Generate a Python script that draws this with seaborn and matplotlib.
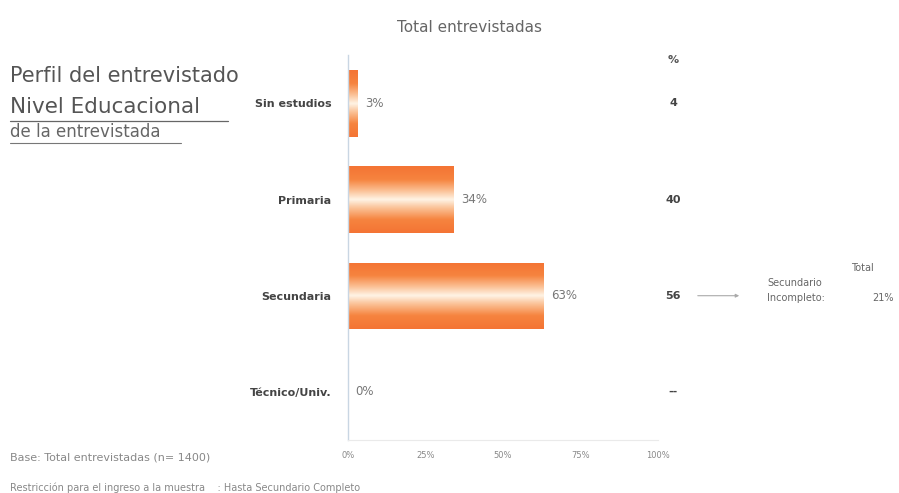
import numpy as np
import pandas as pd
import matplotlib
matplotlib.use("Agg")
import matplotlib.pyplot as plt
from matplotlib.lines import Line2D
from matplotlib.patches import FancyArrowPatch
from matplotlib.colors import LinearSegmentedColormap
import seaborn as sns

categories = ["Sin estudios", "Primaria", "Secundaria", "Técnico/Univ."]
pct_total = [3, 34, 63, 0]
pct_labels = ["3%", "34%", "63%", "0%"]
ref_column = ["4", "40", "56", "--"]
x_ticks = [0, 25, 50, 75, 100]
x_tick_labels = ["0%", "25%", "50%", "75%", "100%"]

sns.set_theme(style="white")
plt.rcParams["font.family"] = ["DejaVu Sans"]

df = pd.DataFrame({"nivel": categories, "pct": pct_total})

fig = plt.figure(figsize=(8.99, 4.93), dpi=100)
ax = fig.add_axes([0.387, 0.1075, 0.345, 0.7805])

sns.barplot(data=df, x="pct", y="nivel", ax=ax, orient="h",
            color="#F47A3C", width=0.69, saturation=1)

# striped orange/cream gradient across the height of each bar
grad = LinearSegmentedColormap.from_list(
    "stripe",
    [(0.0, "#F47434"), (0.2, "#F6843F"), (0.36, "#FBBE92"),
     (0.5, "#FFF4E6"), (0.62, "#FBC49A"), (0.8, "#F6843F"), (1.0, "#F47434")])
vals = np.linspace(0, 1, 200).reshape(-1, 1)
for p in ax.patches:
    x0, y0 = p.get_x(), p.get_y()
    w, h = p.get_width(), p.get_height()
    if w <= 0:
        continue
    p.set_facecolor("none")
    p.set_edgecolor("none")
    im = ax.imshow(vals, cmap=grad, aspect="auto",
                   extent=(x0, x0 + w, y0 + h, y0), zorder=2,
                   interpolation="bicubic")
    im.set_clip_path(p)
ax.set_xlim(0, 100)
ax.set_ylim(3.5, -0.5)

for i, lab in enumerate(pct_labels):
    ax.text(pct_total[i] + 2.5, i, lab, va="center", ha="left",
            fontsize=8.5, color="#777777")

ax.set_xticks(x_ticks)
ax.set_xticklabels(x_tick_labels, fontsize=6, color="#888888")
ax.tick_params(axis="x", length=0, pad=8)
ax.set_yticks(range(len(categories)))
ax.set_yticklabels(categories, fontsize=8, color="#444444", fontweight="bold")
ax.tick_params(axis="y", length=0, pad=12)
ax.set_xlabel("")
ax.set_ylabel("")
for s in ["top", "right"]:
    ax.spines[s].set_visible(False)
ax.spines["left"].set_color("#C9D6E3")
ax.spines["left"].set_linewidth(1.0)
ax.spines["bottom"].set_color("#EAEAEA")
ax.spines["bottom"].set_linewidth(0.8)

def fx(px):
    return px / 899

def fy(py):
    return 1 - py / 493

fig.text(fx(470), fy(28), "Total entrevistadas", ha="center", va="center",
         fontsize=11, color="#666666")
fig.text(fx(10), fy(76), "Perfil del entrevistado", ha="left", va="center",
         fontsize=15, color="#555555")
fig.text(fx(10), fy(107), "Nivel Educacional", ha="left", va="center",
         fontsize=15.5, color="#555555")
fig.add_artist(Line2D([fx(10), fx(228)], [fy(121), fy(121)], color="#666666", lw=0.9))
fig.text(fx(10), fy(132), "de la entrevistada", ha="left", va="center",
         fontsize=12, color="#666666")
fig.add_artist(Line2D([fx(10), fx(181)], [fy(143), fy(143)], color="#777777", lw=0.8))

# comparison column on the right
fig.text(fx(673), fy(60), "%", ha="center", va="center", fontsize=8,
         color="#555555", fontweight="bold")
for i, v in enumerate(ref_column):
    yc = ax.transData.transform((0, i))[1] / fig.bbox.height
    fig.text(fx(673), yc, v, ha="center", va="center", fontsize=8,
             color="#444444", fontweight="bold")

y_sec = ax.transData.transform((0, 2))[1] / fig.bbox.height
fig.add_artist(FancyArrowPatch(
    (fx(695), y_sec), (fx(742), y_sec), transform=fig.transFigure,
    arrowstyle="-|>", mutation_scale=5, color="#AAAAAA", lw=0.8))
fig.text(fx(862), fy(268), "Total", ha="center", va="center", fontsize=7, color="#666666")
fig.text(fx(767), fy(283), "Secundario", ha="left", va="center", fontsize=7, color="#666666")
fig.text(fx(767), fy(298), "Incompleto:", ha="left", va="center", fontsize=7, color="#666666")
fig.text(fx(872), fy(298), "21%", ha="left", va="center", fontsize=7, color="#666666")

fig.text(fx(10), fy(457), "Base: Total entrevistadas (n= 1400)", ha="left", va="center",
         fontsize=8, color="#888888")
fig.text(fx(10), fy(488), "Restricción para el ingreso a la muestra    : Hasta Secundario Completo",
         ha="left", va="center", fontsize=7, color="#888888")

fig.savefig("out.png", dpi=100, facecolor="white")
